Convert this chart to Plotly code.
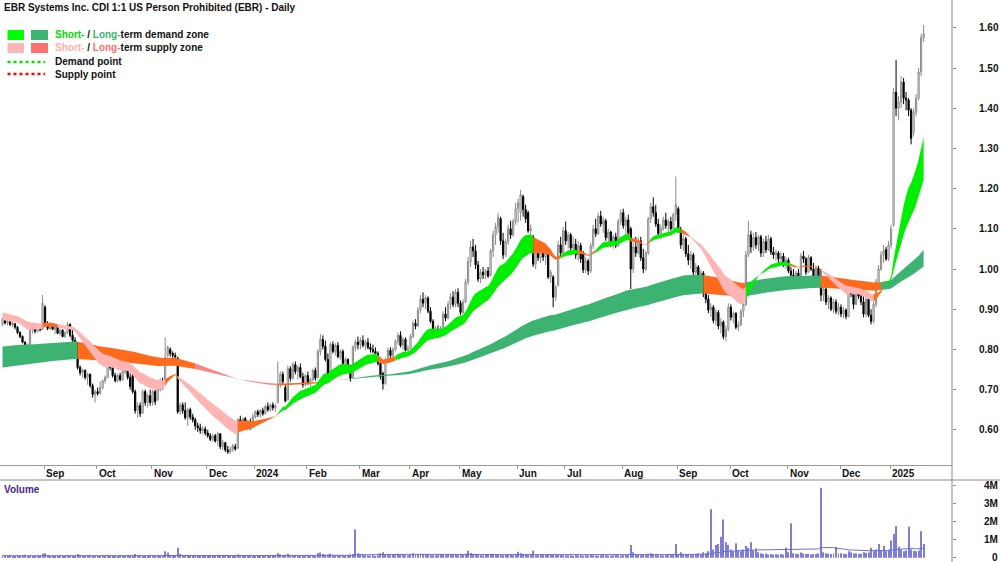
import numpy as np
import pandas as pd
import plotly.graph_objects as go

# ---------------- calendar (ASX trading days) ----------------
holidays = ["2023-12-25", "2023-12-26", "2024-01-01", "2024-01-26", "2024-03-29",
            "2024-04-01", "2024-04-25", "2024-06-10", "2024-12-25", "2024-12-26", "2025-01-01"]
dates = pd.bdate_range("2023-08-09", "2025-01-21")
dates = dates[~dates.isin(pd.to_datetime(holidays))]
idx = np.arange(len(dates))

# ---------------- daily OHLC ----------------
opens = [
    .862, .872, .866, .868, .862, .864, .855, .842, .832, .818, .806, .808, .848, .852, .845, .856, .850,
    .905, .865, .852, .862, .850, .855, .840, .848, .832, .842, .862, .835, .822, .815, .755, .742, .748, .730, .738, .710, .688,
    .695, .690, .705, .722, .730, .765, .755, .735, .722, .735, .725, .745, .755, .730, .735, .695, .648, .660, .642, .695, .668, .685,
    .668, .695, .675, .700, .722, .725, .785, .800, .790, .785, .778, .645, .662, .648, .630, .650, .632, .625, .610, .605, .598, .602,
    .592, .585, .576, .585, .572, .590, .558, .568, .550, .545, .552, .558, .555, .625, .618, .628, .605, .620, .608,
    .632, .645, .638, .648, .640, .658, .650, .662, .655, .668, .712, .738, .705, .675, .752, .728, .762, .745, .755, .732, .712,
    .735, .718, .725, .748, .730, .795, .825, .808, .775, .738, .812, .795, .810, .782, .795, .765, .775, .752, .730, .805, .818,
    .812, .822, .810, .818, .805, .800, .795, .790, .765, .740, .715, .775, .798, .785, .800, .820, .835, .810, .825, .798,
    .802, .832, .865, .858, .898, .925, .915, .928, .895, .870, .845, .850, .838, .852, .888, .878, .912, .930, .912, .942,
    .915, .892, .918, .968, 1.018, 1.055, 1.045, 1.010, .975, .992, .985, .995, .985, 1.045, 1.085, 1.105, 1.125, 1.070, 1.035, 1.068, 1.100, 1.085, 1.118,
    1.150, 1.140, 1.180, 1.148, 1.140, 1.095, 1.080, 1.012, 1.045, 1.028, 1.050, 1.030, 1.040, .980, .980, .930, .960, 1.060, 1.040,
    1.095, 1.070, 1.085, 1.052, 1.062, 1.035, 1.058, 1.038, .998, 1.020, .995, 1.058, 1.100, 1.088, 1.132, 1.112, 1.120, 1.078, 1.092, 1.062, 1.080, 1.058, 1.118,
    1.140, 1.108, 1.122, 1.100, 1.000, 1.055, 1.040, 1.070, 1.028, 1.000, 1.040, 1.125, 1.155, 1.140, 1.112, 1.088, 1.100, 1.122, 1.108, 1.118, 1.100, 1.135,
    1.150, 1.098, 1.060, 1.075, 1.038, 1.022, 1.035, .992, 1.005, .985, .990, .940, .925, .898, .905, .872, .892, .858, .868, .832, .850,
    .905, .880, .890, .855, .862, .895, .912, 1.035, 1.085, 1.055, 1.078, 1.060, 1.080, 1.040, 1.068, 1.048, 1.075, 1.042, 1.035, 1.040, 1.025, 1.032, 1.012,
    1.022, .995, .985, .978, .990, .975, 1.032, 1.025, .992, 1.028, 1.000, .982, 1.002, .968, .935, .950, .918, .928, .900, .918, .895,
    .905, .888, .898, .882, .955, .938, .912, .948, .932, .918, .888, .925, .885, .870, .912, .968, 1.000, 1.035, 1.048, 1.025,
    1.060, 1.110, 1.440, 1.400, 1.415, 1.465, 1.425, 1.420, 1.395, 1.340, 1.390, 1.425, 1.490, 1.575,
]
highs = [
    .880, .878, .875, .872, .870, .866, .858, .845, .835, .820, .815, .852, .856, .858, .860, .860, .935,
    .910, .870, .868, .866, .858, .858, .852, .850, .845, .868, .865, .848, .830, .818, .760, .752, .750, .742, .740, .715, .700,
    .705, .720, .725, .735, .772, .775, .760, .742, .740, .742, .750, .762, .758, .740, .742, .700, .668, .668, .700, .700, .690, .700,
    .700, .700, .705, .728, .730, .830, .810, .805, .795, .792, .782, .668, .668, .668, .655, .655, .640, .630, .618, .615, .610, .608,
    .600, .592, .590, .590, .595, .592, .575, .570, .560, .558, .565, .565, .630, .635, .630, .632, .625, .628, .640,
    .648, .650, .652, .655, .662, .668, .665, .668, .665, .770, .745, .745, .712, .760, .758, .768, .770, .760, .765, .742, .738,
    .745, .730, .752, .755, .800, .838, .835, .822, .790, .818, .820, .815, .818, .800, .800, .780, .778, .762, .810, .825, .832,
    .830, .835, .825, .828, .815, .812, .805, .795, .770, .745, .780, .805, .805, .805, .825, .842, .845, .830, .830, .810,
    .838, .872, .875, .905, .935, .942, .935, .932, .905, .875, .858, .860, .858, .895, .905, .920, .940, .945, .950, .952,
    .922, .925, .975, 1.030, 1.070, 1.075, 1.060, 1.020, 1.000, 1.005, 1.000, 1.005, 1.050, 1.095, 1.115, 1.140, 1.130, 1.090, 1.075, 1.110, 1.120, 1.125, 1.165,
    1.175, 1.197, 1.185, 1.160, 1.145, 1.110, 1.085, 1.050, 1.060, 1.055, 1.058, 1.050, 1.045, .998, .985, .960, 1.070, 1.080, 1.105,
    1.118, 1.092, 1.090, 1.080, 1.075, 1.070, 1.065, 1.045, 1.030, 1.025, 1.065, 1.110, 1.125, 1.140, 1.145, 1.130, 1.125, 1.100, 1.095, 1.085, 1.090, 1.125, 1.148,
    1.150, 1.130, 1.135, 1.105, 1.065, 1.080, 1.078, 1.080, 1.050, 1.045, 1.130, 1.165, 1.178, 1.160, 1.125, 1.110, 1.130, 1.140, 1.125, 1.130, 1.140, 1.230,
    1.155, 1.105, 1.085, 1.080, 1.060, 1.045, 1.040, 1.015, 1.010, .998, .995, .975, .935, .915, .910, .900, .898, .878, .872, .860, .915,
    .912, .895, .892, .870, .900, .918, 1.045, 1.120, 1.095, 1.090, 1.092, 1.085, 1.085, 1.075, 1.082, 1.085, 1.080, 1.055, 1.048, 1.045, 1.042, 1.040, 1.030,
    1.028, 1.005, 1.000, .995, 1.000, 1.040, 1.045, 1.030, 1.035, 1.032, 1.015, 1.010, 1.008, 1.000, .960, .955, .935, .932, .925, .925, .915,
    .912, .905, .902, .970, .972, .945, .955, .958, .945, .940, .930, .930, .900, .920, .975, 1.010, 1.045, 1.060, 1.055, 1.070,
    1.110, 1.450, 1.520, 1.430, 1.480, 1.475, 1.440, 1.425, 1.400, 1.400, 1.435, 1.500, 1.585, 1.607,
]
lows = [
    .858, .862, .860, .858, .855, .850, .838, .828, .815, .800, .800, .805, .840, .840, .842, .845, .848,
    .860, .848, .848, .848, .838, .838, .835, .830, .828, .838, .830, .818, .812, .750, .735, .730, .725, .712, .705, .680, .668,
    .685, .688, .700, .715, .728, .748, .730, .718, .718, .720, .722, .738, .725, .700, .690, .640, .630, .632, .640, .660, .655, .660,
    .660, .662, .672, .695, .700, .722, .780, .782, .778, .778, .640, .638, .640, .625, .610, .625, .618, .600, .595, .590, .588, .586,
    .580, .572, .570, .568, .560, .552, .550, .545, .540, .540, .545, .548, .552, .612, .605, .602, .598, .600, .605,
    .628, .632, .630, .635, .638, .645, .645, .648, .645, .665, .705, .712, .668, .672, .720, .725, .738, .725, .728, .705, .708,
    .712, .705, .720, .722, .728, .785, .800, .770, .728, .735, .790, .785, .778, .775, .760, .752, .748, .720, .728, .795, .800,
    .800, .805, .798, .800, .792, .790, .785, .760, .725, .700, .712, .770, .778, .780, .795, .812, .805, .800, .795, .788,
    .800, .828, .850, .855, .890, .905, .900, .890, .865, .840, .832, .830, .832, .850, .870, .875, .900, .905, .905, .905,
    .885, .888, .915, .960, 1.005, 1.030, 1.000, .968, .965, .975, .975, .978, .982, 1.030, 1.060, 1.090, 1.060, 1.025, 1.030, 1.060, 1.075, 1.080, 1.110,
    1.115, 1.120, 1.130, 1.115, 1.090, 1.080, 1.005, 1.000, 1.020, 1.015, 1.020, 1.010, .975, .965, .905, .920, .955, 1.030, 1.035,
    1.060, 1.050, 1.045, 1.040, 1.025, 1.020, 1.015, .990, .990, .985, .990, 1.050, 1.080, 1.085, 1.105, 1.090, 1.070, 1.065, 1.055, 1.050, 1.052, 1.055, 1.110,
    1.100, 1.085, 1.080, .950, .990, 1.030, 1.035, 1.020, .990, .995, 1.035, 1.115, 1.130, 1.105, 1.080, 1.075, 1.095, 1.100, 1.090, 1.095, 1.095, 1.120,
    1.090, 1.050, 1.045, 1.030, 1.010, 1.000, .985, .985, .975, .970, .930, .915, .890, .880, .865, .860, .850, .840, .825, .820, .845,
    .872, .865, .850, .845, .858, .880, .908, 1.030, 1.040, 1.045, 1.050, 1.045, 1.030, 1.030, 1.040, 1.045, 1.035, 1.025, 1.020, 1.015, 1.010, 1.005, 1.000,
    .990, .975, .970, .968, .970, .972, 1.015, .985, .990, .995, .975, .975, .960, .920, .920, .910, .900, .895, .890, .888, .885,
    .880, .878, .875, .880, .930, .900, .910, .925, .910, .880, .880, .880, .862, .865, .905, .960, .995, 1.015, 1.020, 1.020,
    1.050, 1.105, 1.380, 1.370, 1.400, 1.410, 1.395, 1.380, 1.310, 1.330, 1.380, 1.420, 1.480, 1.565,
]
closes = [
    .876, .866, .870, .862, .866, .855, .842, .832, .818, .806, .810, .848, .852, .845, .856, .848, .915,
    .865, .852, .862, .850, .855, .840, .848, .832, .842, .862, .835, .822, .818, .755, .742, .748, .730, .738, .710, .688, .695,
    .690, .705, .722, .730, .765, .755, .735, .722, .735, .725, .745, .755, .730, .708, .695, .648, .660, .640, .695, .668, .685, .668,
    .695, .670, .700, .722, .712, .780, .805, .790, .785, .782, .645, .662, .648, .630, .650, .632, .625, .610, .605, .598, .602, .592,
    .585, .576, .585, .572, .590, .558, .568, .550, .545, .552, .560, .552, .625, .618, .628, .605, .620, .608, .632,
    .645, .638, .648, .640, .658, .650, .662, .655, .660, .712, .738, .720, .672, .752, .728, .762, .745, .755, .732, .712, .735,
    .718, .725, .748, .728, .795, .825, .808, .775, .735, .812, .795, .810, .782, .795, .765, .775, .752, .728, .805, .818, .812,
    .822, .810, .818, .805, .800, .795, .790, .765, .732, .715, .775, .798, .785, .800, .820, .835, .810, .825, .798, .802,
    .832, .865, .858, .898, .925, .915, .928, .895, .870, .845, .850, .838, .852, .888, .878, .912, .930, .912, .942, .915,
    .892, .918, .968, 1.018, 1.055, 1.045, 1.010, .975, .992, .985, .995, .982, 1.045, 1.085, 1.105, 1.128, 1.070, 1.035, 1.068, 1.100, 1.085, 1.118, 1.150,
    1.165, 1.185, 1.148, 1.125, 1.095, 1.100, 1.012, 1.045, 1.028, 1.050, 1.030, 1.040, .980, .992, .930, .955, 1.060, 1.040, 1.095,
    1.070, 1.085, 1.052, 1.062, 1.035, 1.058, 1.025, .998, 1.020, .995, 1.058, 1.100, 1.088, 1.132, 1.112, 1.120, 1.078, 1.092, 1.062, 1.080, 1.058, 1.118, 1.140,
    1.108, 1.122, 1.090, 1.000, 1.055, 1.040, 1.070, 1.028, 1.000, 1.040, 1.125, 1.155, 1.140, 1.112, 1.088, 1.100, 1.122, 1.108, 1.118, 1.100, 1.135, 1.160,
    1.098, 1.060, 1.075, 1.038, 1.022, 1.035, .992, 1.005, .985, .990, .940, .925, .898, .905, .872, .892, .858, .868, .832, .850, .905,
    .880, .890, .855, .862, .895, .912, 1.035, 1.085, 1.055, 1.078, 1.060, 1.080, 1.040, 1.068, 1.048, 1.075, 1.042, 1.035, 1.040, 1.025, 1.032, 1.012, 1.022,
    .995, .985, .978, .990, .975, 1.032, 1.025, .992, 1.028, 1.000, .982, 1.002, .968, .935, .950, .918, .928, .900, .918, .895, .905,
    .888, .898, .882, .955, .938, .912, .948, .932, .918, .888, .925, .885, .870, .912, .968, 1.000, 1.035, 1.045, 1.025, 1.060,
    1.100, 1.440, 1.400, 1.415, 1.465, 1.425, 1.420, 1.395, 1.325, 1.390, 1.425, 1.490, 1.575, 1.585,
]
# daily volume, thousands of shares
volume_k = [
    120, 90, 80, 150, 100, 70, 110, 90, 130, 160, 80, 120, 100, 90, 110, 70, 220,
    250, 130, 90, 100, 80, 70, 120, 60, 90, 150, 110, 80, 70, 200, 140, 110, 90, 150, 130, 100, 120,
    110, 90, 130, 80, 150, 100, 90, 70, 80, 120, 90, 110, 130, 100, 90, 210, 140, 110, 100, 90, 80, 150,
    120, 90, 110, 80, 140, 350, 280, 120, 100, 110, 550, 200, 150, 120, 90, 100, 80, 110, 90, 70, 80, 100,
    90, 80, 100, 70, 120, 90, 80, 110, 70, 90, 100, 80, 180, 120, 90, 80, 70, 60, 90,
    80, 100, 90, 70, 110, 90, 80, 100, 120, 250, 180, 120, 160, 220, 150, 130, 110, 140, 100, 90, 120,
    110, 90, 130, 100, 250, 280, 200, 160, 180, 220, 140, 120, 150, 110, 130, 100, 120, 180, 200, 1550, 250,
    200, 150, 130, 120, 110, 140, 100, 120, 250, 300, 180, 150, 130, 160, 140, 220, 180, 150, 130, 120,
    150, 250, 180, 160, 220, 200, 170, 150, 130, 140, 120, 160, 180, 150, 140, 170, 160, 200, 150, 140,
    130, 160, 220, 380, 260, 200, 150, 140, 130, 120, 150, 200, 180, 220, 160, 150, 140, 130, 170, 150, 160, 140, 200,
    330, 250, 200, 180, 150, 160, 380, 140, 130, 180, 150, 160, 200, 170, 150, 140, 160, 150, 130,
    120, 140, 130, 100, 150, 120, 140, 110, 130, 120, 150, 140, 120, 110, 130, 160, 140, 120, 110, 130, 150, 140, 120,
    130, 150, 140, 700, 300, 200, 150, 140, 160, 130, 220, 250, 180, 150, 140, 130, 120, 140, 160, 150, 180, 750,
    200, 300, 150, 150, 180, 130, 160, 200, 250, 180, 300, 250, 350, 2660, 450, 700, 750, 1150, 2100, 850, 700,
    450, 350, 800, 400, 350, 450, 650, 550, 850, 400, 500, 300, 250, 200, 230, 180, 200, 170, 190, 180, 200, 180, 550,
    300, 1900, 250, 220, 200, 280, 240, 200, 220, 180, 200, 210, 230, 3850, 300, 250, 220, 200, 250, 600, 230,
    250, 220, 200, 350, 280, 230, 250, 200, 220, 300, 260, 280, 550, 350, 450, 750, 400, 650, 350, 450,
    950, 1300, 1750, 600, 450, 350, 400, 1700, 450, 380, 350, 400, 1450, 750,
]

# zone seeds (band edges at the first bar)
short_fast_seed, short_slow_seed = 0.872, 0.893
long_fast_seed, long_slow_seed = 0.806, 0.754

# zone colour states (start date of each state)
short_zone_starts = ["2023-08-09", "2023-08-31", "2023-09-08", "2023-11-08", "2023-11-15", "2023-12-19",
                     "2024-01-15", "2024-03-12", "2024-03-21", "2024-06-12", "2024-06-27", "2024-07-08",
                     "2024-07-17", "2024-08-06", "2024-08-16", "2024-09-03", "2024-09-10", "2024-10-09",
                     "2024-11-04", "2024-11-20", "2024-12-19", "2024-12-27"]
short_zone_states = ["supply", "mixed", "supply", "mixed", "supply", "mixed",
                     "demand", "mixed", "demand", "mixed", "demand", "mixed",
                     "demand", "mixed", "demand", "mixed", "supply", "demand",
                     "mixed", "supply", "mixed", "demand"]
long_zone_starts = ["2023-08-09", "2023-09-20", "2023-11-24", "2024-01-15", "2024-02-16",
                    "2024-09-16", "2024-10-09", "2024-11-20", "2024-12-24"]
long_zone_states = ["demand", "mixed", "supply", "mixed", "demand",
                    "mixed", "demand", "mixed", "demand"]

month_labels = ["Sep", "Oct", "Nov", "Dec", "2024", "Feb", "Mar", "Apr", "May", "Jun",
                "Jul", "Aug", "Sep", "Oct", "Nov", "Dec", "2025"]
price_ticks = [0.6, 0.7, 0.8, 0.9, 1.0, 1.1, 1.2, 1.3, 1.4, 1.5, 1.6]
vol_ticks = [0, 1e6, 2e6, 3e6, 4e6]
vol_tick_text = ["0", "1M", "2M", "3M", "4M"]

for arr in (opens, highs, lows, closes, volume_k):
    assert len(arr) == len(dates), len(arr)

# ---------------- indicators ----------------
def ema(vals, n, seed):
    a = 2.0 / (n + 1)
    e = seed
    out = []
    for v in vals:
        e = e + a * (v - e)
        out.append(e)
    return np.array(out)

short_fast = ema(closes, 20, short_fast_seed)
short_slow = ema(closes, 35, short_slow_seed)
long_fast = ema(closes, 150, long_fast_seed)
long_slow = ema(closes, 220, long_slow_seed)
volume = np.array(volume_k) * 1000.0
vol_ma = pd.Series(volume).rolling(50, min_periods=1).mean().values

# ---------------- geometry helpers ----------------
W, H = 1000, 562
PLOT_W = 952
def px(x):
    return x / PLOT_W
def py(y):
    return (H - y) / H

FONT = "Liberation Sans, Arial, sans-serif"
SHORT_COLORS = {"demand": "#00ee00", "supply": "#ffb4b4", "mixed": "#ff6a1c"}
LONG_COLORS = {"demand": "#3cb371", "supply": "#ff8282", "mixed": "#ff6a1c"}

fig = go.Figure()

def add_band(fast, slow, starts, states, colors):
    upper = np.maximum(fast, slow)
    lower = np.minimum(fast, slow)
    sidx = [dates.get_loc(pd.Timestamp(d)) for d in starts]
    for k, s in enumerate(sidx):
        e = sidx[k + 1] if k + 1 < len(sidx) else len(dates) - 1
        xs = list(idx[s:e + 1]) + list(idx[s:e + 1][::-1])
        ys = list(upper[s:e + 1]) + list(lower[s:e + 1][::-1])
        fig.add_trace(go.Scatter(x=xs, y=ys, mode="lines", fill="toself",
                                 fillcolor=colors[states[k]], line=dict(width=0),
                                 hoverinfo="skip", showlegend=False,
                                 xaxis="x", yaxis="y"))

add_band(long_fast, long_slow, long_zone_starts, long_zone_states, LONG_COLORS)
add_band(short_fast, short_slow, short_zone_starts, short_zone_states, SHORT_COLORS)

fig.add_trace(go.Candlestick(
    x=idx, open=opens, high=highs, low=lows, close=closes,
    increasing=dict(line=dict(color="#8a8a8a", width=1), fillcolor="#ffffff"),
    decreasing=dict(line=dict(color="#000000", width=1), fillcolor="#000000"),
    whiskerwidth=0, showlegend=False, hoverinfo="skip", xaxis="x", yaxis="y"))

fig.add_trace(go.Bar(x=idx, y=volume, width=0.4, marker=dict(color="#7e7ed8", line=dict(width=0)),
                     showlegend=False, hoverinfo="skip", xaxis="x2", yaxis="y2"))
fig.add_trace(go.Scatter(x=idx, y=vol_ma, mode="lines", line=dict(color="#6e6ed2", width=1),
                         showlegend=False, hoverinfo="skip", xaxis="x2", yaxis="y2"))

# month ticks at the first trading day of each month (skip partial first month)
month_first = pd.Series(idx, index=dates).groupby([dates.year, dates.month]).first().values[1:]
tick_pos = [m - 0.35 for m in month_first]

xr = [-1, (PLOT_W - 2.5) / 2.503]

fig.update_layout(
    width=W, height=H, margin=dict(l=0, r=W - PLOT_W, t=0, b=0),
    paper_bgcolor="white", plot_bgcolor="white", showlegend=False,
    font=dict(family=FONT, size=10, color="#111111"),
    xaxis=dict(domain=[0, 1], range=xr, anchor="y", showgrid=False, zeroline=False,
               showline=True, linecolor="#9a9a9a", linewidth=1,
               ticks="outside", ticklen=3, tickcolor="#9a9a9a", tickvals=tick_pos,
               showticklabels=False, rangeslider=dict(visible=False)),
    yaxis=dict(domain=[py(465), 1], range=[1 + (269 - 465) / 402, 1 + 269 / 402],
               side="right", anchor="x", showgrid=False, zeroline=False, showline=False,
               ticks="outside", ticklen=3, tickcolor="#888888",
               tickvals=price_ticks, ticktext=["%.2f" % v for v in price_ticks],
               tickfont=dict(family=FONT, size=10, color="#111111", weight="bold"),
               ticklabelstandoff=21),
    xaxis2=dict(domain=[0, 1], range=xr, anchor="y2", showgrid=False, zeroline=False,
                showline=False, showticklabels=False, ticks=""),
    yaxis2=dict(domain=[0, py(480)], range=[-(H - 557.7) / 18.175 * 1e6, (557.7 - 480) / 18.175 * 1e6],
                side="right", anchor="x2", showgrid=False, zeroline=False, showline=False,
                ticks="outside", ticklen=3, tickcolor="#888888", tickvals=vol_ticks,
                showticklabels=False),
)

shapes = [
    dict(type="line", xref="paper", yref="paper", x0=1, x1=1, y0=0, y1=1,
         line=dict(color="#8a8a8a", width=1)),
    dict(type="line", xref="paper", yref="paper", x0=0, x1=px(W), y0=py(480), y1=py(480),
         line=dict(color="#8a8a8a", width=1)),
    # legend swatches
    dict(type="rect", xref="paper", yref="paper", x0=px(7.5), x1=px(24), y0=py(40), y1=py(30),
         line=dict(width=0), fillcolor="#00ff00"),
    dict(type="rect", xref="paper", yref="paper", x0=px(31), x1=px(48), y0=py(40), y1=py(30),
         line=dict(width=0), fillcolor="#3cb371"),
    dict(type="rect", xref="paper", yref="paper", x0=px(7.5), x1=px(24), y0=py(53), y1=py(43),
         line=dict(width=0), fillcolor="#ffb6b6"),
    dict(type="rect", xref="paper", yref="paper", x0=px(31), x1=px(48), y0=py(53), y1=py(43),
         line=dict(width=0), fillcolor="#ff7070"),
    dict(type="line", xref="paper", yref="paper", x0=px(7.5), x1=px(45), y0=py(62), y1=py(62),
         line=dict(color="#00e000", width=2.5, dash="dot")),
    dict(type="line", xref="paper", yref="paper", x0=px(7.5), x1=px(45), y0=py(74), y1=py(74),
         line=dict(color="#ff0000", width=2.5, dash="dot")),
]
fig.update_layout(shapes=shapes)

ann = []
def text(x, y, s, color="#111111", anchor="left", xref="paper", yref="paper"):
    ann.append(dict(x=x, y=y, xref=xref, yref=yref, text=s, showarrow=False,
                    xanchor=anchor, yanchor="middle",
                    font=dict(family=FONT, size=10, color=color)))

text(px(2), py(7.5), "<b>EBR Systems Inc. CDI 1:1 US Person Prohibited (EBR) - Daily</b>")
text(px(53), py(34.5), "<b><span style='color:#00e000'>Short-</span> / "
                       "<span style='color:#3cb371'>Long-</span>term demand zone</b>")
text(px(53), py(47.5), "<b><span style='color:#ffb0b0'>Short-</span> / "
                       "<span style='color:#ff6e6e'>Long-</span>term supply zone</b>")
text(px(53), py(62), "<b>Demand point</b>")
text(px(53), py(74), "<b>Supply point</b>")
text(px(2), py(489), "<b>Volume</b>", color="#4b1e91")
for pos, lab in zip(tick_pos, month_labels):
    text(pos, py(473.5), "<b>%s</b>" % lab, xref="x")
for v, lab in zip(vol_ticks, vol_tick_text):
    ann.append(dict(x=px(1000), y=v, xref="paper", yref="y2", text="<b>%s</b>" % lab,
                    showarrow=False, xanchor="right", yanchor="middle",
                    font=dict(family=FONT, size=10, color="#111111")))
fig.update_layout(annotations=ann)

fig.write_html("out.html")
